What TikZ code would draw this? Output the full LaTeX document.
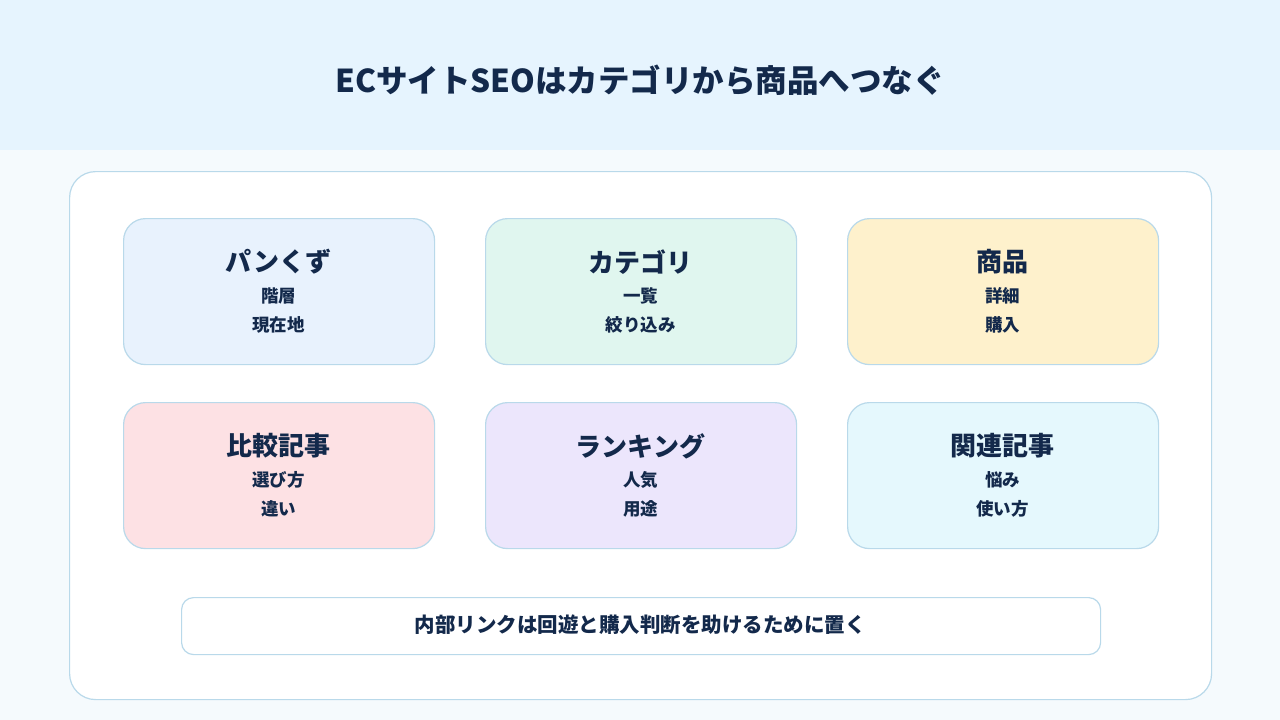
\documentclass[tikz,border=0pt]{standalone}
\usepackage{fontspec}
\setmainfont{Noto Sans CJK JP}
\definecolor{ink}{HTML}{13294B}
\definecolor{hdr}{HTML}{E6F4FE}
\definecolor{bg}{HTML}{F5FAFD}
\definecolor{bd}{HTML}{B9D9EA}
\definecolor{cA}{HTML}{E8F2FD}
\definecolor{cB}{HTML}{E0F6EF}
\definecolor{cC}{HTML}{FEF1CC}
\definecolor{cD}{HTML}{FDE1E4}
\definecolor{cE}{HTML}{ECE6FC}
\definecolor{cF}{HTML}{E5F8FD}
\tikzset{card/.style={draw=bd,line width=1.2pt,rounded corners=22pt,minimum width=311pt,minimum height=146pt,anchor=north west,inner sep=0pt},
ttl/.style={text=ink,font=\bfseries\fontsize{26}{30}\selectfont},
sub/.style={text=ink,font=\bfseries\fontsize{17.5}{20}\selectfont}}
\begin{document}
\begin{tikzpicture}[x=1pt,y=-1pt]
\useasboundingbox (0,0) rectangle (1280,720);
\fill[bg] (0,0) rectangle (1280,720);
\fill[hdr] (0,0) rectangle (1280,150);
\node[text=ink,font=\bfseries\fontsize{31.5}{36}\selectfont] (title) at (640,80) {ECサイトSEOはカテゴリから商品へつなぐ};
\node[draw=bd,line width=1.2pt,fill=white,rounded corners=26pt,minimum width=1142pt,minimum height=528pt,anchor=north west] (panel) at (69,171) {};
\foreach \n/\x/\y/\c/\t/\a/\b in {a/123/218/cA/パンくず/階層/現在地, b/485/218/cB/カテゴリ/一覧/絞り込み, c/847/218/cC/商品/詳細/購入, d/123/402/cD/比較記事/選び方/違い, e/485/402/cE/ランキング/人気/用途, f/847/402/cF/関連記事/悩み/使い方}{
\node[card,fill=\c] (\n) at (\x,\y) {};
\node[ttl] (\n t) at (\x+155.5,\y+44) {\t};
\node[sub] (\n a) at (\x+155.5,\y+78) {\a};
\node[sub] (\n b) at (\x+155.5,\y+107) {\b};
}
\node[draw=bd,line width=1.2pt,fill=white,rounded corners=12pt,minimum width=919pt,minimum height=57pt,anchor=north west] (bar) at (181,597) {};
\node[text=ink,font=\bfseries\fontsize{20.5}{24}\selectfont] (bartxt) at (640,625) {内部リンクは回遊と購入判断を助けるために置く};
\end{tikzpicture}
\end{document}
